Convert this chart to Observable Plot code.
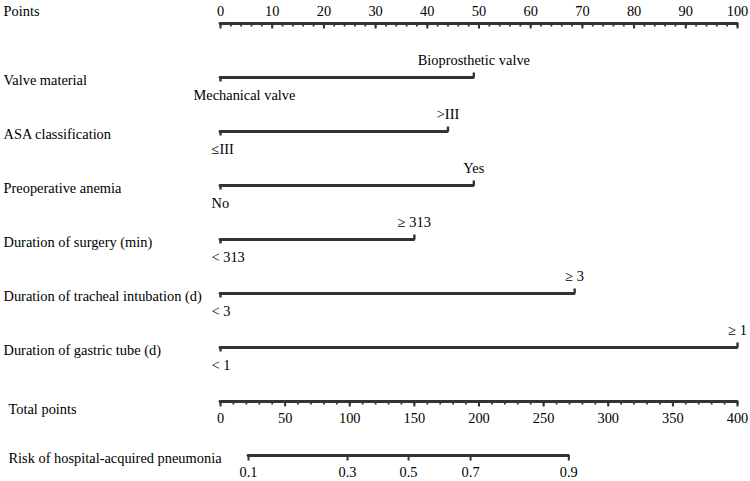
<!DOCTYPE html>
<html>
<head>
<meta charset="utf-8">
<script src="https://cdn.jsdelivr.net/npm/d3@7"></script>
<script src="https://cdn.jsdelivr.net/npm/@observablehq/plot@0.6"></script>
<style>
  body { margin: 0; background: #fff; }
</style>
</head>
<body>
<div id="chart"></div>
<script>
// Nomogram rows, top to bottom
const rows = [
  "Points",
  "Valve material",
  "ASA classification",
  "Preoperative anemia",
  "Duration of surgery (min)",
  "Duration of tracheal intubation (d)",
  "Duration of gastric tube (d)",
  "Total points",
  "Risk of hospital-acquired pneumonia"
];

// Predictor rows with their two levels and the points of the higher level
const predictors = rows.slice(1, 7);
const lowLevels = ["Mechanical valve", "≤III", "No", "< 313", "< 3", "< 1"];
const highLevels = ["Bioprosthetic valve", ">III", "Yes", "≥ 313", "≥ 3", "≥ 1"];
const highPoints = [49, 44, 49, 37.5, 68.5, 100];

// Axis ticks
const pointTicks = [0, 10, 20, 30, 40, 50, 60, 70, 80, 90, 100];
const pointMinor = d3.range(0, 101, 2);
const totalTicks = [0, 50, 100, 150, 200, 250, 300, 350, 400];
const totalMinor = d3.range(0, 401, 10);

// Risk scale: probability labels and the total points where each sits
const riskTicks = [0.1, 0.3, 0.5, 0.7, 0.9];
const riskTotalPoints = [21.7, 98.3, 145.5, 193.5, 269.5];

// Total points (0–400) share the Points axis (0–100)
const TOTAL_MAX = 400;
const toPts = (t) => t * 100 / TOTAL_MAX;

const ink = "#333";
const font = "'Liberation Serif', 'Times New Roman', serif";
const fs = 14.4;
const lineW = 2.8;
const txt = {fill: "#000", fontSize: fs, fontFamily: font};

const bars = predictors.map((name, i) => ({
  name, low: lowLevels[i], high: highLevels[i], pts: highPoints[i]
}));
const riskRow = rows[8];

const chart = Plot.plot({
  width: 750,
  height: 481,
  margin: 0,
  x: {domain: [0, 100], range: [220, 737], axis: null},
  // zero-width bands: each row is a single line, ticks hang off it via insets
  y: {type: "band", domain: rows, range: [22, 456], paddingInner: 1, paddingOuter: 0, axis: null},
  style: "background:#fff;font-family:'Liberation Serif','Times New Roman',serif;",
  marks: [
    // row titles
    Plot.text(["Points"], {y: (d) => d, text: (d) => d, frameAnchor: "left", textAnchor: "start", dx: 3, dy: -12, ...txt}),
    Plot.text(rows.slice(1, 7), {y: (d) => d, text: (d) => d, frameAnchor: "left", textAnchor: "start", dx: 3, dy: 3, ...txt}),
    Plot.text(["Total points"], {y: (d) => d, text: (d) => d, frameAnchor: "left", textAnchor: "start", dx: 8, dy: 8, ...txt}),
    Plot.text([riskRow], {y: (d) => d, text: (d) => d, frameAnchor: "left", textAnchor: "start", dx: 8, dy: 3, ...txt}),

    // Points axis
    Plot.ruleY(["Points"], {x1: 0, x2: 100, y: (d) => d, stroke: ink, strokeWidth: lineW, strokeLinecap: "round"}),
    Plot.tickX(pointMinor, {x: (d) => d, y: () => "Points", insetTop: 0, insetBottom: -3.5, stroke: ink, strokeWidth: 1.8}),
    Plot.tickX(pointTicks, {x: (d) => d, y: () => "Points", insetTop: 0, insetBottom: -5.5, stroke: ink, strokeWidth: 2}),
    Plot.text(pointTicks, {x: (d) => d, y: () => "Points", text: (d) => String(d), dy: -12, ...txt}),

    // predictor bars with end ticks
    Plot.ruleY(bars, {y: "name", x1: 0, x2: "pts", stroke: ink, strokeWidth: lineW, strokeLinecap: "round"}),
    Plot.tickX(bars, {y: "name", x: () => 0, insetTop: 0, insetBottom: -4.5, stroke: ink, strokeWidth: 2.4}),
    Plot.tickX(bars, {y: "name", x: "pts", insetTop: -4.5, insetBottom: 0, stroke: ink, strokeWidth: 2.4}),
    Plot.text(bars, {y: "name", x: "pts", text: "high", dy: -17, textAnchor: "middle", ...txt}),
    Plot.text(bars.filter((d) => d.low.length > 6), {y: "name", x: () => 0, text: "low", dy: 18, dx: -27, textAnchor: "start", ...txt}),
    Plot.text(bars.filter((d) => d.low.length <= 6), {y: "name", x: () => 0, text: "low", dy: 18, dx: -9, textAnchor: "start", ...txt}),

    // Total points axis
    Plot.ruleY(["Total points"], {x1: 0, x2: 100, y: (d) => d, stroke: ink, strokeWidth: lineW, strokeLinecap: "round"}),
    Plot.tickX(totalMinor, {x: toPts, y: () => "Total points", insetTop: 0, insetBottom: -3.5, stroke: ink, strokeWidth: 1.8}),
    Plot.tickX(totalTicks, {x: toPts, y: () => "Total points", insetTop: 0, insetBottom: -5.5, stroke: ink, strokeWidth: 2}),
    Plot.text(totalTicks, {x: toPts, y: () => "Total points", text: (d) => String(d), dy: 17, ...txt}),

    // Risk axis
    Plot.ruleY([riskRow], {
      y: (d) => d, x1: toPts(riskTotalPoints[0]), x2: toPts(riskTotalPoints[riskTotalPoints.length - 1]),
      stroke: ink, strokeWidth: lineW, strokeLinecap: "round"
    }),
    Plot.tickX(riskTotalPoints, {x: toPts, y: () => riskRow, insetTop: 0, insetBottom: -5.5, stroke: ink, strokeWidth: 2}),
    Plot.text(riskTicks, {x: (d, i) => toPts(riskTotalPoints[i]), y: () => riskRow,
      text: (d) => String(d), dy: 17, ...txt})
  ]
});

document.getElementById("chart").appendChild(chart);
</script>
</body>
</html>
